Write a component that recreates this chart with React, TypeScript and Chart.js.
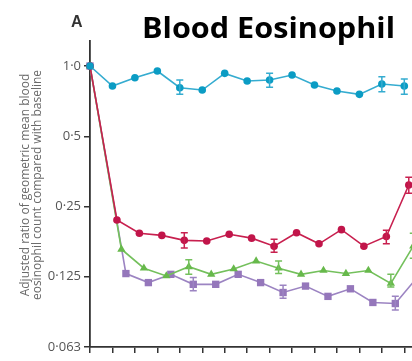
import React, { useEffect, useRef } from "react";
import { Chart, registerables } from "chart.js";

Chart.register(...registerables);

// Visit index (x categories)
const visits = [0, 1, 2, 3, 4, 5, 6, 7, 8, 9, 10, 11, 12, 13, 14];

// Adjusted ratio of geometric mean blood eosinophil count vs baseline
const tealValues = [1.0, 0.821, 0.891, 0.952, 0.807, 0.789, 0.93, 0.862, 0.871, 0.915, 0.829, 0.781, 0.756, 0.837, 0.821];
const tealLow = [null, null, null, null, 0.756, null, null, null, 0.81, null, null, null, null, 0.776, 0.756];
const tealHigh = [null, null, null, null, 0.871, null, null, null, 0.93, null, null, null, null, 0.9, 0.88];

const redValues = [1.0, 0.219, 0.192, 0.188, 0.179, 0.178, 0.19, 0.183, 0.169, 0.193, 0.173, 0.199, 0.169, 0.186, 0.309];
const redLow = [null, null, null, null, 0.166, null, null, null, 0.159, null, null, null, null, 0.173, 0.285];
const redHigh = [null, null, null, null, 0.193, null, null, null, 0.181, null, null, null, null, 0.198, 0.334];

const greenValues = [1.0, 0.164, 0.136, 0.126, 0.138, 0.128, 0.135, 0.146, 0.136, 0.128, 0.133, 0.129, 0.133, 0.117, 0.169];
const greenLow = [null, null, null, null, 0.128, null, null, null, 0.129, null, null, null, null, 0.113, 0.15];
const greenHigh = [null, null, null, null, 0.148, null, null, null, 0.146, null, null, null, null, 0.128, 0.192];

const purpleValues = [1.0, 0.129, 0.118, 0.128, 0.116, 0.116, 0.128, 0.118, 0.107, 0.114, 0.103, 0.111, 0.097, 0.096, 0.125];
const purpleLow = [null, null, null, null, 0.109, null, null, null, 0.101, null, null, null, null, 0.09, 0.115];
const purpleHigh = [null, null, null, null, 0.124, null, null, null, 0.115, null, null, null, null, 0.103, 0.136];

const yTickValues = [0.0625, 0.125, 0.25, 0.5, 1];
const yTickLabels = ["0·063", "0·125", "0·25", "0·5", "1·0"];

const titleText = "Blood Eosinophil";
const panelLabel = "A";
const yTitleLines = ["Adjusted ratio of geometric mean blood", "eosinophil count compared with baseline"];

const CANVAS_W = 470;
const CANVAS_H = 380;

function toPoints(values: number[], dodge: number) {
  return values.map((v, i) => ({ x: i === 0 ? visits[0] : visits[i] + dodge, y: v }));
}

const errorBarPlugin = {
  id: "errorBars",
  afterDatasetsDraw(chart: any) {
    const { ctx } = chart;
    const yScale = chart.scales.y;
    chart.data.datasets.forEach((ds: any, di: number) => {
      const meta = chart.getDatasetMeta(di);
      const lows = ds.errLow;
      const highs = ds.errHigh;
      if (!lows) return;
      ctx.save();
      ctx.strokeStyle = ds.borderColor;
      ctx.lineWidth = 1.5;
      meta.data.forEach((pt: any, i: number) => {
        if (lows[i] == null || highs[i] == null) return;
        const x = pt.x;
        const y1 = yScale.getPixelForValue(lows[i]);
        const y2 = yScale.getPixelForValue(highs[i]);
        ctx.beginPath();
        ctx.moveTo(x, y1);
        ctx.lineTo(x, y2);
        ctx.moveTo(x - 3.5, y1);
        ctx.lineTo(x + 3.5, y1);
        ctx.moveTo(x - 3.5, y2);
        ctx.lineTo(x + 3.5, y2);
        ctx.stroke();
      });
      ctx.restore();
    });
  },
};

const textPlugin = {
  id: "texts",
  afterDraw(chart: any) {
    const { ctx } = chart;
    ctx.save();
    // Title, stretched to the reference width
    ctx.fillStyle = "#000000";
    ctx.font = 'bold 28px "Open Sans", "Noto Sans", sans-serif';
    ctx.textAlign = "left";
    ctx.textBaseline = "alphabetic";
    const w = ctx.measureText(titleText).width;
    const sx = 253 / w;
    ctx.save();
    ctx.translate(142, 38);
    ctx.scale(sx, 1);
    ctx.fillText(titleText, 0, 0);
    ctx.restore();

    // Panel label
    ctx.fillStyle = "#333333";
    ctx.font = 'bold 16px "Liberation Sans Narrow", "Liberation Sans", sans-serif';
    ctx.fillText(panelLabel, 71, 27);

    // Y axis title
    ctx.fillStyle = "#6a6a6a";
    ctx.font = '12px "Open Sans", sans-serif';
    ctx.textAlign = "center";
    const baselines = [29, 40.5];
    yTitleLines.forEach((line, i) => {
      ctx.save();
      ctx.translate(baselines[i], 185);
      ctx.rotate(-Math.PI / 2);
      ctx.fillText(line, 0, 0);
      ctx.restore();
    });
    ctx.restore();
  },
};

export default function App() {
  const canvasRef = useRef<HTMLCanvasElement | null>(null);

  useEffect(() => {
    if (!canvasRef.current) return;
    const mk = (
      values: number[],
      dodge: number,
      color: string,
      pointColor: string,
      style: string,
      radius: number,
      low: (number | null)[],
      high: (number | null)[]
    ) => ({
      data: toPoints(values, dodge),
      borderColor: color,
      backgroundColor: pointColor,
      pointBackgroundColor: pointColor,
      pointBorderColor: pointColor,
      pointBorderWidth: 0,
      pointStyle: style,
      pointRadius: radius,
      borderWidth: 1.6,
      tension: 0,
      clip: false,
      errLow: low,
      errHigh: high,
    });

    const chart = new Chart(canvasRef.current, {
      type: "line",
      data: {
        datasets: [
          mk(tealValues, 0, "#35acd0", "#0b9cc4", "circle", 3.8, tealLow, tealHigh),
          mk(redValues, 0.2, "#c8204f", "#c1154a", "circle", 3.8, redLow, redHigh),
          mk(greenValues, 0.4, "#74c05c", "#67b94b", "triangle", 4.8, greenLow, greenHigh),
          mk(purpleValues, 0.6, "#9c84c2", "#9577bb", "rect", 5.2, purpleLow, purpleHigh),
        ] as any,
      },
      options: {
        animation: false,
        responsive: false,
        devicePixelRatio: 1,
        layout: { padding: { left: 8, top: 41, right: 20.8, bottom: 21 } },
        plugins: {
          legend: { display: false },
          tooltip: { enabled: false },
          title: { display: false },
        },
        scales: {
          x: {
            type: "linear",
            min: 0,
            max: 16,
            ticks: { display: false, stepSize: 1 },
            grid: {
              drawOnChartArea: false,
              drawTicks: true,
              tickLength: 6,
              color: "#333333",
              lineWidth: 1.5,
            },
            border: { display: true, color: "#333333", width: 1.8 },
            afterFit: (scale: any) => {
              scale.height = 12;
            },
          },
          y: {
            type: "logarithmic",
            min: 0.0625,
            max: 1.28,
            afterBuildTicks: (scale: any) => {
              scale.ticks = yTickValues.map((v) => ({ value: v }));
            },
            ticks: {
              autoSkip: false,
              padding: 3,
              color: "#555555",
              font: { family: '"Liberation Sans Narrow", "Open Sans", sans-serif', size: 13 },
              callback: (value: any) => {
                const idx = yTickValues.indexOf(Number(value));
                return idx >= 0 ? yTickLabels[idx] : "";
              },
            },
            grid: {
              drawOnChartArea: false,
              drawTicks: true,
              tickLength: 6,
              color: "#333333",
              lineWidth: 1.5,
            },
            border: { display: true, color: "#333333", width: 1.8 },
            afterFit: (scale: any) => {
              scale.width = 82;
            },
          },
        },
      } as any,
      plugins: [errorBarPlugin, textPlugin],
    });
    return () => chart.destroy();
  }, []);

  return (
    <div
      style={{
        position: "fixed",
        left: 0,
        top: 0,
        width: 412,
        height: 361,
        overflow: "hidden",
        background: "#ffffff",
      }}
    >
      <canvas
        ref={canvasRef}
        width={CANVAS_W}
        height={CANVAS_H}
        style={{ width: CANVAS_W, height: CANVAS_H, display: "block" }}
      />
    </div>
  );
}
